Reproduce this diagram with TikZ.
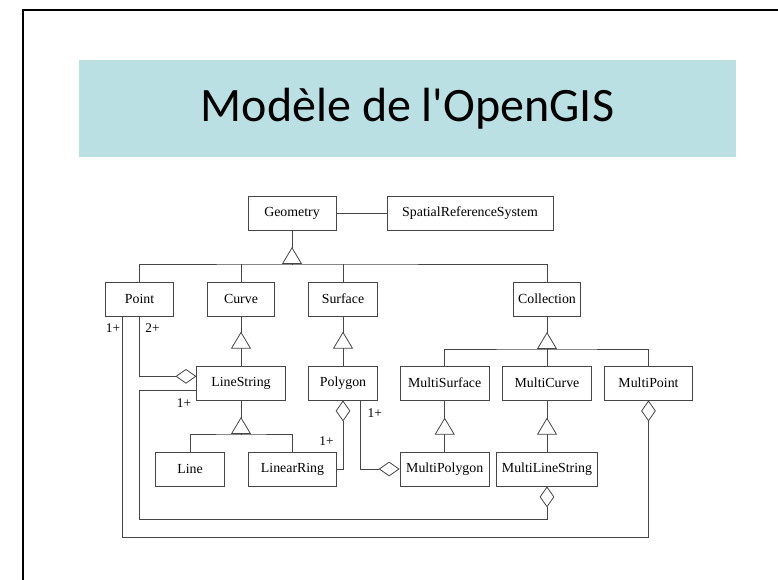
\documentclass[tikz,border=0pt]{standalone}
\usepackage{fontspec}
\setmainfont{Liberation Serif}
\newfontfamily\titlefont{Carlito}
\usetikzlibrary{arrows.meta}

\definecolor{titlebg}{RGB}{187,224,227}
\definecolor{linec}{RGB}{70,70,70}

\tikzset{
  cls/.style={draw=linec, fill=white, line width=0.6pt, inner sep=0pt, minimum height=25.5pt, font=\fontsize{10.4}{12}\selectfont},
  lnk/.style={draw=linec, line width=0.6pt},
  isa/.style={lnk, -{Triangle[fill=white, length=12.75pt, width=15pt]}},
  agg/.style={lnk, -{Diamond[fill=white, length=15.75pt, width=11pt]}},
  card/.style={font=\fontsize{10}{12}\selectfont, inner sep=0pt},
}

\begin{document}
\begin{tikzpicture}[x=0.75pt,y=0.75pt,yscale=-1,xscale=1]
\useasboundingbox (0,0) rectangle (778,580);

%Shape: Frame
\draw[line width=1.5pt] (22.5,580) -- (22.5,10) -- (778,10);
%Shape: Title
\node[fill=titlebg, minimum width=492.75pt, minimum height=72.75pt, inner sep=0pt, font=\titlefont\fontsize{36}{43}\selectfont] (title) at (407.5,108.5) {Modèle de l'OpenGIS};

%Shape: Classes
\node[cls, minimum width=66pt] (Geometry) at (292,213) {Geometry};
\node[cls, minimum width=124.5pt] (SRS) at (470,213) {SpatialReferenceSystem};
\node[cls, minimum width=50.6pt] (Point) at (139.5,299) {Point};
\node[cls, minimum width=50.8pt] (Curve) at (241,299) {Curve};
\node[cls, minimum width=51.2pt] (Surface) at (343,299) {Surface};
\node[cls, minimum width=50.8pt] (Collection) at (547,299) {Collection};
\node[cls, minimum width=66.2pt] (LineString) at (241,383) {LineString};
\node[cls, minimum width=51.2pt] (Polygon) at (343,383) {Polygon};
\node[cls, minimum width=67pt] (MultiSurface) at (444.7,383) {MultiSurface};
\node[cls, minimum width=67pt] (MultiCurve) at (547,383) {MultiCurve};
\node[cls, minimum width=66.3pt] (MultiPoint) at (648.5,383) {MultiPoint};
\node[cls, minimum width=51.2pt] (Line) at (190,469) {Line};
\node[cls, minimum width=66.3pt] (LinearRing) at (292.5,469) {LinearRing};
\node[cls, minimum width=67pt] (MultiPolygon) at (444.7,469) {MultiPolygon};
\node[cls, minimum width=76.3pt] (MultiLineString) at (547,469) {MultiLineString};

%Straight Lines
\draw[lnk] (Geometry) -- (SRS);

%Generalisation: Geometry
\coordinate (gbar) at (Geometry.south |- 0,264);
\draw[lnk] (Point.north) |- (gbar) -| (Collection.north);
\draw[lnk] (Curve.north) -- (Curve.north |- gbar);
\draw[lnk] (Surface.north) -- (Surface.north |- gbar);
\draw[lnk] (Geometry.south) -- (gbar);
\draw[isa] (gbar) -- ++(0,-17);

%Generalisation: Collection
\coordinate (cbar) at (Collection.south |- 0,349);
\draw[lnk] (MultiSurface.north) |- (cbar) -| (MultiPoint.north);
\draw[lnk] (MultiCurve.north) -- (Collection.south);
\draw[isa] (cbar) -- ++(0,-17);

%Generalisation: LineString
\coordinate (lbar) at (LineString.south |- 0,434);
\draw[lnk] (Line.north) |- (lbar) -| (LinearRing.north);
\draw[lnk] (LineString.south) -- (lbar);
\draw[isa] (lbar) -- ++(0,-17);

%Generalisation: single
\draw[lnk] (LineString.north) -- (Curve.south);
\draw[isa] ([yshift=-12.75pt]LineString.north) -- ++(0,-17);
\draw[lnk] (Polygon.north) -- (Surface.south);
\draw[isa] ([yshift=-12.75pt]Polygon.north) -- ++(0,-17);
\draw[lnk] (MultiPolygon.north) -- (MultiSurface.south);
\draw[isa] ([yshift=-12.75pt]MultiPolygon.north) -- ++(0,-17);
\draw[lnk] (MultiLineString.north) -- (MultiCurve.south);
\draw[isa] ([yshift=-12.75pt]MultiLineString.north) -- ++(0,-17);

%Aggregation
\draw[agg] (Point.south) |- ([yshift=-5pt]LineString.west);
\coordinate (c1) at (Point.south |- 0,519);
\draw[agg] ([yshift=5.5pt]LineString.west) -| (c1) -| (MultiLineString.south);
\coordinate (p1) at ([xshift=-12.75pt]Point.south);
\coordinate (c2) at (p1 |- 0,537);
\draw[agg] (p1) -- (c2) -| (MultiPoint.south);
\draw[agg] (LinearRing.east) -| (Polygon.south);
\draw[agg] ([xshift=12.75pt]Polygon.south) |- (MultiPolygon.west);

%Multiplicities
\node[card] (m1) at (113,328) {1+};
\node[card] (m2) at (152.5,328) {2+};
\node[card] (m3) at (184,403) {1+};
\node[card] (m4) at (326.5,441) {1+};
\node[card] (m5) at (374.7,413) {1+};

\end{tikzpicture}
\end{document}
